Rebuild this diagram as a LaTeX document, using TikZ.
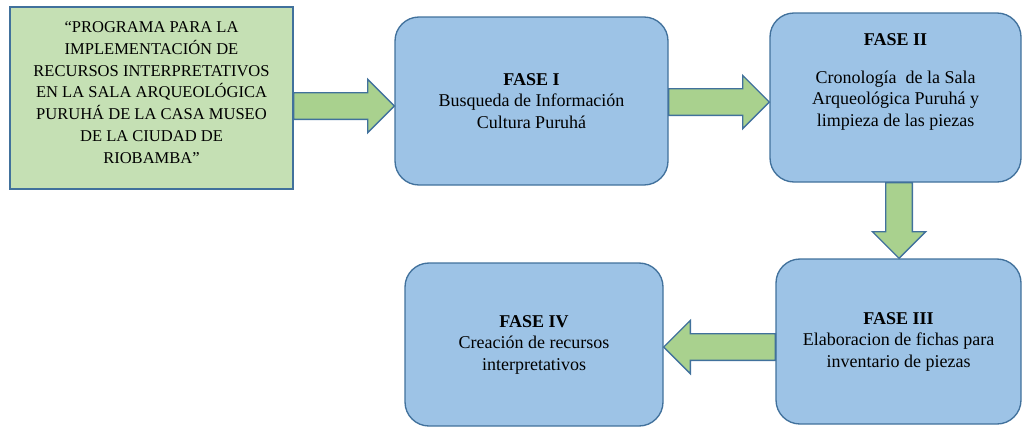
\documentclass[tikz,border=0pt]{standalone}
\usepackage{fontspec}
\setmainfont{Liberation Serif}
\usetikzlibrary{calc}

\definecolor{verdeclaro}{HTML}{C5E0B4}
\definecolor{verdeflecha}{HTML}{A9D18E}
\definecolor{azulfase}{HTML}{9DC3E6}
\definecolor{bordeazul}{HTML}{41719C}

\tikzset{
  fase/.style={draw=bordeazul, fill=azulfase, line width=1pt, rounded corners=18pt,
    inner sep=0pt, align=center, font=\fontsize{13.5}{16.1}\selectfont},
  portada/.style={draw=bordeazul, fill=verdeclaro, line width=1pt,
    inner sep=0pt, align=center, font=\fontsize{12.4}{16.35}\selectfont},
  texto/.style={inner sep=0pt, align=center},
  flecha/.style={draw=bordeazul, fill=verdeflecha, line width=1pt, line join=miter},
}

% flechas de bloque: origen, destino, desplazamiento de la punta
\newcommand{\flechader}[3]{%
  \draw[flecha] let \p1=(#1.east), \p2=([yshift=#3]#2.west) in
    (\x1,\y2+10pt) -- (\x2-20pt,\y2+10pt) -- (\x2-20pt,\y2+20pt) -- (\x2,\y2)
    -- (\x2-20pt,\y2-20pt) -- (\x2-20pt,\y2-10pt) -- (\x1,\y2-10pt) -- cycle;}
\newcommand{\flechaaba}[3]{%
  \draw[flecha] let \p1=(#1.south), \p2=([xshift=#3]#2.north) in
    (\x2-10pt,\y1) -- (\x2-10pt,\y2+20pt) -- (\x2-20pt,\y2+20pt) -- (\x2,\y2)
    -- (\x2+20pt,\y2+20pt) -- (\x2+10pt,\y2+20pt) -- (\x2+10pt,\y1) -- cycle;}
\newcommand{\flechaizq}[3]{%
  \draw[flecha] let \p1=(#1.west), \p2=([yshift=#3]#2.east) in
    (\x1,\y2+10pt) -- (\x2+20pt,\y2+10pt) -- (\x2+20pt,\y2+20pt) -- (\x2,\y2)
    -- (\x2+20pt,\y2-20pt) -- (\x2+20pt,\y2-10pt) -- (\x1,\y2-10pt) -- cycle;}

\begin{document}
\begin{tikzpicture}[x=0.75pt, y=-0.75pt]

  \useasboundingbox (0,0) rectangle (1024,429);

  % cajas (centro en pixeles de la imagen)
  \node[portada, minimum width=212.25pt, minimum height=136.5pt] (programa) at (151.5, 98) {};
  \node[texto, font=\fontsize{12.4}{16.35}\selectfont] (programatexto) at (151.5, 92.5)
    {“PROGRAMA PARA LA\\IMPLEMENTACIÓN DE\\RECURSOS INTERPRETATIVOS\\EN LA SALA ARQUEOLÓGICA\\PURUHÁ DE LA CASA MUSEO\\DE LA CIUDAD DE\\RIOBAMBA”};
  \node[fase, minimum width=204.75pt, minimum height=126pt] (fase1) at (531.5, 101)
    {\textbf{FASE I}\\Busqueda de Información\\Cultura Puruhá};
  \node[fase, minimum width=188.25pt, minimum height=126.75pt] (fase2) at (895.5, 97.5) {};
  \node[texto, font=\fontsize{13.5}{16.1}\selectfont] (fase2texto) at (895.5, 82)
    {\textbf{FASE II}\\[12pt]Cronología~ de la Sala\\Arqueológica Puruhá y\\limpieza de las piezas};
  \node[fase, minimum width=183.75pt, minimum height=123.75pt] (fase3) at (898.5, 341.5)
    {\textbf{FASE III}\\Elaboracion de fichas para\\inventario de piezas};
  \node[fase, minimum width=193.5pt, minimum height=122.25pt] (fase4) at (534, 344.5)
    {\textbf{FASE IV}\\Creación de recursos\\interpretativos};

  % flechas
  \flechader{programa}{fase1}{-3.75pt}
  \flechader{fase1}{fase2}{-3.4pt}
  \flechaaba{fase2}{fase3}{0.4pt}
  \flechaizq{fase3}{fase4}{-1.9pt}

\end{tikzpicture}
\end{document}
